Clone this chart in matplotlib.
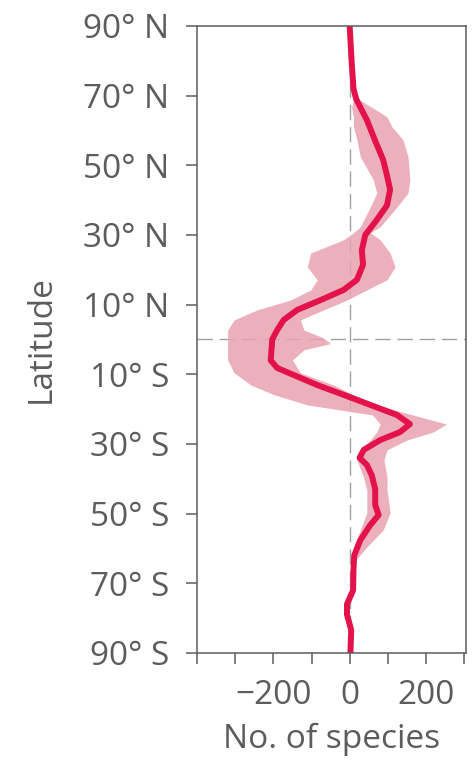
import matplotlib.pyplot as plt
import numpy as np

# Mean line: latitude (deg, + = N) and change in number of species
lat_line = [90, 80, 72, 69, 63, 57, 51.5, 47, 43, 38.5, 34.3, 30, 25.7, 21.4, 17.1,
            14.2, 11.3, 8.5, 5.6, 2.7, 0, -3, -6, -8.2, -10.2, -13.1, -15.9, -18.8,
            -21.7, -24.3, -26.6, -28.9, -31.7, -34, -36, -39, -43, -47.5, -50.4,
            -53.3, -57.6, -62, -66, -72, -76, -79, -83.4, -90]
species = [0, 5, 10, 17, 45, 67, 88, 98, 106, 98, 71, 41, 32, 35, 19,
           -16, -76, -137, -173, -190, -203, -205, -207, -190, -147, -85, -16, 54,
           124, 158, 132, 80, 37, 26, 45, 58, 67, 67, 76,
           54, 28, 12, 10, 9, -7, -7, 4, 2]

# Uncertainty band
lat_band = [72, 68.8, 66.5, 63.9, 61, 57.3, 52.4, 45.8, 42, 38, 32.3, 30.6, 28.6,
            24.8, 20.8, 17.1, 14.2, 11.3, 8.5, 5.6, 2.7, 0.5, -1.2, -3, -5.9, -9.6,
            -13.1, -15.9, -18.8, -21.7, -24.3, -26.6, -28.9, -31.7, -34.6, -39.5,
            -43.2, -49.8, -54.7, -59.6, -63.3]
band_lo = [9, 10, 5, 10, 10, 19, 28, 62, 71, 54, 28, 10, -16,
           -102, -111, -85, -102, -155, -242, -303, -320, -320, -320, -320, -320, -303,
           -259, -198, -111, 60, 80, 71, 54, 28, 19, 36,
           45, 45, 28, 10, 8]
band_hi = [11, 25, 60, 98, 111, 140, 153, 158, 153, 124, 80, 54, 80,
           106, 119, 98, 45, -7, -68, -129, -120, -70, -50, -120, -150, -129,
           -42, 10, 72, 166, 254, 219, 150, 98, 90, 98,
           98, 106, 88, 45, 16]

lat_ticks = [90, 70, 50, 30, 10, -10, -30, -50, -70, -90]
lat_labels = ["90° N", "70° N", "50° N", "30° N", "10° N",
              "10° S", "30° S", "50° S", "70° S", "90° S"]
x_ticks = [-400, -300, -200, -100, 0, 100, 200, 300]
x_labels = ["", "", "\u2212200", "", "0", "", "200", ""]

plt.rcParams['font.family'] = ['Open Sans', 'DejaVu Sans']
grey = "#5c5c5c"

fig = plt.figure(figsize=(4.75, 7.61), dpi=100)
ax = fig.add_axes([0.415, 0.142, 0.566, 0.824])

ax.fill_betweenx(lat_band, band_lo, band_hi, color="#e9a3b1", alpha=0.85, lw=0)
ax.plot(species, lat_line, color="#e3124b", lw=4.3, solid_capstyle="butt",
        solid_joinstyle="round")
ax.axvline(0, color="#a0a0a0", lw=1, ls=(0, (11, 5)), zorder=0)
ax.axhline(0, color="#a0a0a0", lw=1, ls=(0, (11, 5)), zorder=0)

ax.set_xlim(-400, 305)
ax.set_ylim(-90, 90)
ax.set_yticks(lat_ticks)
ax.set_yticklabels(lat_labels)
ax.set_xticks(x_ticks)
ax.set_xticklabels(x_labels)
ax.tick_params(direction="out", length=8, width=1.1, color=grey,
               labelsize=24, labelcolor=grey)
ax.tick_params(axis="y", pad=12)
ax.tick_params(axis="x", pad=11)
for s in ax.spines.values():
    s.set_color(grey)
    s.set_linewidth(1.1)

ax.set_ylabel("Latitude", fontsize=24, color=grey)
ax.yaxis.set_label_coords(-0.52, 0.5)
ax.set_xlabel("No. of species", fontsize=24, color=grey)
ax.xaxis.set_label_coords(0.5, -0.112)

fig.savefig("out.png", dpi=100)
